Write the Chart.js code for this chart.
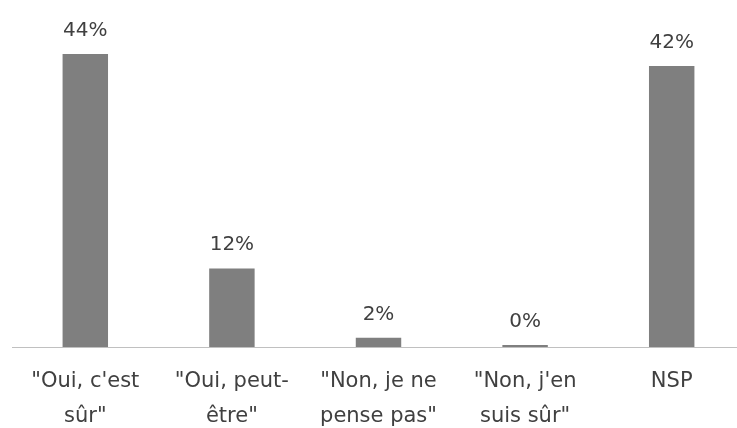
<!DOCTYPE html>
<html>
<head>
<meta charset="utf-8">
<script src="https://cdn.jsdelivr.net/npm/chart.js@4/dist/chart.umd.min.js"></script>
<style>
    html, body { margin: 0; padding: 0; background: #fff; overflow: hidden; }
    #wrap { width: 750px; height: 428px; }
</style>
</head>
<body>
<div id="wrap"><canvas id="chart"></canvas></div>
<script>
// Categories (two-line labels as shown under the axis)
const categories = [
    ['"Oui, c\'est', 'sûr"'],
    ['"Oui, peut-', 'être"'],
    ['"Non, je ne', 'pense pas"'],
    ['"Non, j\'en', 'suis sûr"'],
    ['NSP']
];
// Share of answers, in %
const values = [44, 11.8, 1.4, 0.3, 42.2];
// Labels printed over the bars
const valueLabels = ['44%', '12%', '2%', '0%', '42%'];

const textFont = '"DejaVu Sans", sans-serif';

// Draw the percentage above each bar
const barLabels = {
    id: 'barLabels',
    afterDatasetsDraw(chart) {
        const ctx = chart.ctx;
        const meta = chart.getDatasetMeta(0);
        ctx.save();
        ctx.font = '20px ' + textFont;
        ctx.fillStyle = '#404040';
        ctx.textAlign = 'center';
        ctx.textBaseline = 'alphabetic';
        meta.data.forEach((bar, i) => {
            ctx.fillText(valueLabels[i], bar.x, bar.y - 18);
        });
        ctx.restore();
    }
};

const ctx = document.getElementById('chart').getContext('2d');
new Chart(ctx, {
    type: 'bar',
    data: {
        labels: categories,
        datasets: [{
            data: values,
            backgroundColor: '#7f7f7f',
            categoryPercentage: 1,
            barPercentage: 0.31
        }]
    },
    options: {
        responsive: true,
        maintainAspectRatio: false,
        animation: false,
        layout: { padding: { left: 12, right: 5, top: 14, bottom: 0 } },
        plugins: {
            legend: { display: false },
            tooltip: { enabled: false }
        },
        scales: {
            x: {
                grid: { display: false, drawTicks: false },
                border: { display: true, color: '#c0c0c0', width: 1 },
                ticks: {
                    color: '#404040',
                    padding: 17,
                    maxRotation: 0,
                    autoSkip: false,
                    font: { family: textFont, size: 21, lineHeight: '35px' }
                },
                afterFit(scale) { scale.height = 81; }
            },
            y: {
                display: false,
                min: 0,
                max: 50
            }
        }
    },
    plugins: [barLabels]
});
</script>
</body>
</html>
